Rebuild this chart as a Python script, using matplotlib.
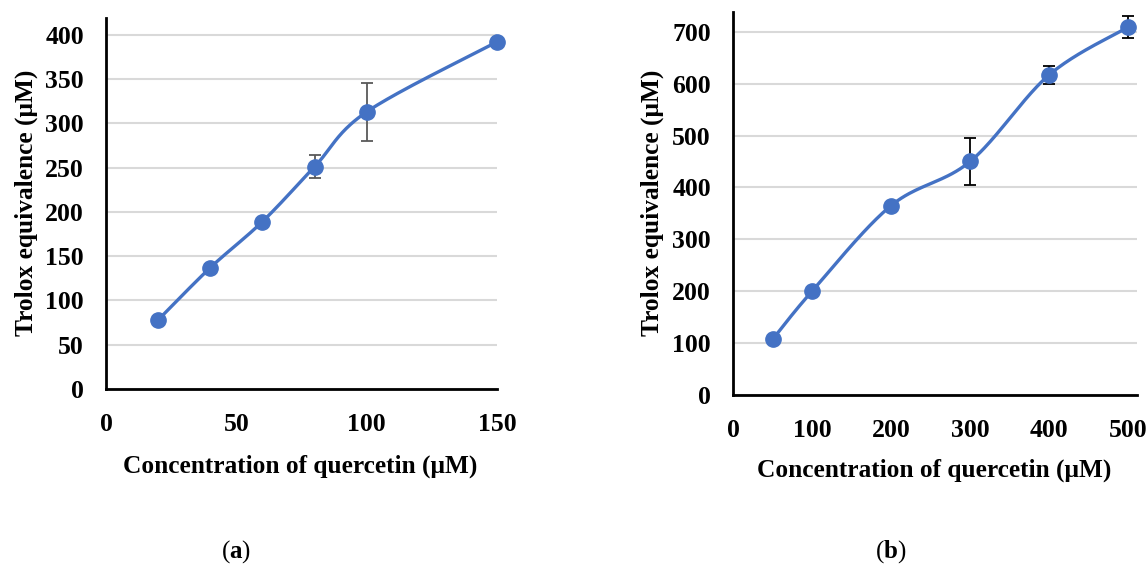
import numpy as np
import matplotlib.pyplot as plt

# panel (a)
conc_a = [20, 40, 60, 80, 100, 150]
trolox_a = [78, 137, 189, 251, 313, 392]
err_a = [3, 4, 3, 13, 33, 3]

# panel (b)
conc_b = [50, 100, 200, 300, 400, 500]
trolox_b = [107, 200, 365, 450, 617, 709]
err_b = [5, 5, 3, 45, 17, 22]

xticks_a = [0, 50, 100, 150]
yticks_a = [0, 50, 100, 150, 200, 250, 300, 350, 400]
xticks_b = [0, 100, 200, 300, 400, 500]
yticks_b = [0, 100, 200, 300, 400, 500, 600, 700]

LINE = "#4472C4"
plt.rcParams["font.family"] = ["Liberation Serif", "DejaVu Serif"]
plt.rcParams["font.weight"] = "bold"
plt.rcParams["mathtext.fontset"] = "custom"
plt.rcParams["mathtext.bf"] = "Liberation Serif:bold"
plt.rcParams["mathtext.rm"] = "Liberation Serif"


def smooth(x, y, n=40):
    # Catmull-Rom style Bezier, close to Excel's "smoothed line"
    p = np.column_stack([x, y]).astype(float)
    segs = []
    for i in range(len(p) - 1):
        p0 = p[i - 1] if i > 0 else p[i]
        p1, p2 = p[i], p[i + 1]
        p3 = p[i + 2] if i + 2 < len(p) else p[i + 1]
        c1 = p1 + (p2 - p0) / 6
        c2 = p2 - (p3 - p1) / 6
        t = np.linspace(0, 1, n)[:, None]
        segs.append((1 - t) ** 3 * p1 + 3 * (1 - t) ** 2 * t * c1
                    + 3 * (1 - t) * t ** 2 * c2 + t ** 3 * p2)
    s = np.vstack(segs)
    return s[:, 0], s[:, 1]


def panel(ax, x, y, err, xt, yt, xlim, ylim, ecolor, xlab_pos, ylab_pos):
    ax.set_xlim(*xlim)
    ax.set_ylim(*ylim)
    sx, sy = smooth(x, y)
    ax.plot(sx, sy, color=LINE, lw=2.4, zorder=3, solid_capstyle="round", clip_on=False)
    ax.errorbar(x, y, yerr=err, fmt="none", ecolor=ecolor, elinewidth=1.3,
                capsize=4, capthick=1.3, zorder=2, clip_on=False)
    ax.plot(x, y, "o", color=LINE, ms=11, zorder=4, clip_on=False)
    ax.set_xticks(xt)
    ax.set_yticks(yt)
    ax.tick_params(length=0, labelsize=18.5)
    ax.tick_params(axis="y", pad=16)
    ax.tick_params(axis="x", pad=17)
    ax.grid(axis="y", color="#d9d9d9", lw=1.5)
    ax.set_axisbelow(True)
    for s in ["top", "right"]:
        ax.spines[s].set_visible(False)
    for s in ["left", "bottom"]:
        ax.spines[s].set_linewidth(2)
    ax.set_xlabel("Concentration of quercetin (μM)", fontsize=18.3, fontweight="bold")
    ax.set_ylabel("Trolox equivalence (μM)", fontsize=18.3, fontweight="bold")
    ax.xaxis.set_label_coords(*xlab_pos)
    ax.yaxis.set_label_coords(*ylab_pos)
    ax.xaxis.label.set_va("center")
    ax.yaxis.label.set_va("center")


fig = plt.figure(figsize=(11.48, 5.68), dpi=100)
W, H = 1148, 568

ax1 = fig.add_axes([106 / W, (H - 389) / H, 391 / W, 371 / H])
panel(ax1, conc_a, trolox_a, err_a, xticks_a, yticks_a, (0, 150), (0, 419),
      "#595959", (0.496, -0.2075), (-0.203, 0.501))

ax2 = fig.add_axes([733 / W, (H - 395) / H, 404 / W, 383 / H])
panel(ax2, conc_b, trolox_b, err_b, xticks_b, yticks_b, (0, 511), (0, 738),
      "black", (0.4975, -0.196), (-0.20, 0.501))

fig.text(236 / W, 1 - 552 / H, r"($\mathbf{a}$)", ha="center", va="center",
         fontsize=18, fontweight="normal")
fig.text(891 / W, 1 - 552 / H, r"($\mathbf{b}$)", ha="center", va="center",
         fontsize=18, fontweight="normal")

fig.savefig("out.png", dpi=100)
